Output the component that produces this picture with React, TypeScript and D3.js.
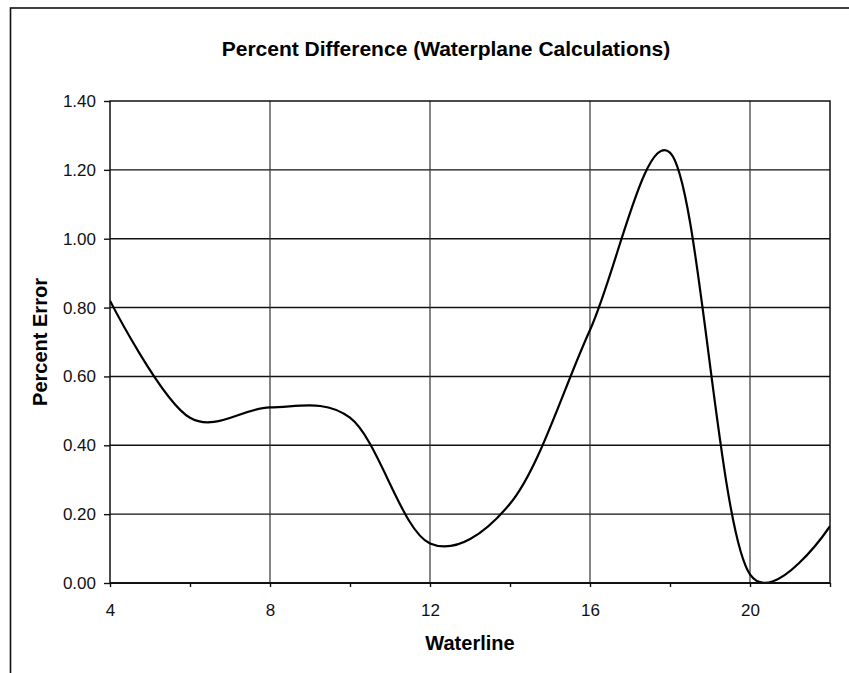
import React, { useEffect, useRef } from 'react';
import * as d3 from 'd3';

// waterline stations (every 2) and percent error
const waterlines = [4, 6, 8, 10, 12, 14, 16, 18, 20, 22];
const percentError = [0.82, 0.48, 0.51, 0.48, 0.115, 0.23, 0.735, 1.25, 0.025, 0.165];

const yTicks = [0, 0.2, 0.4, 0.6, 0.8, 1.0, 1.2, 1.4];
const xMajorTicks = [4, 8, 12, 16, 20];
const xAllTicks = [4, 6, 8, 10, 12, 14, 16, 18, 20, 22];

const chartTitle = 'Percent Difference (Waterplane Calculations)';
const xTitle = 'Waterline';
const yTitle = 'Percent Error';

const App = () => {
    const ref = useRef(null);
    const size = { width: 849, height: 673 };
    const plot = {
        left: 110, right: 830, top: 101, bottom: 583,
    };
    const font = '\'Liberation Sans\', Arial, sans-serif';

    useEffect(() => {
        const svg = d3.select(ref.current);
        svg.selectAll('*').remove();

        const x = d3.scaleLinear().domain([4, 22]).range([plot.left, plot.right]);
        const y = d3.scaleLinear().domain([0, 1.4]).range([plot.bottom, plot.top]);

        // clip for the series so the smoothing dip stays inside the plot
        svg.append('defs')
            .append('clipPath')
            .attr('id', 'plot-clip')
            .append('rect')
            .attr('x', plot.left)
            .attr('y', plot.top)
            .attr('width', plot.right - plot.left)
            .attr('height', plot.bottom - plot.top + 1);

        // outer chart frame (cropped on the right and bottom)
        svg.append('rect')
            .attr('x', 10.5)
            .attr('y', 8)
            .attr('width', 900)
            .attr('height', 800)
            .attr('fill', 'white')
            .attr('stroke', '#111')
            .attr('stroke-width', 1.6);

        // title
        svg.append('text')
            .attr('x', 446)
            .attr('y', 56)
            .attr('text-anchor', 'middle')
            .style('font-family', font)
            .style('font-size', '21px')
            .style('font-weight', 'bold')
            .text(chartTitle);

        // horizontal gridlines
        svg.append('g')
            .selectAll('line')
            .data(yTicks.filter((d) => d > 0 && d < 1.4))
            .enter()
            .append('line')
            .attr('x1', plot.left)
            .attr('x2', plot.right)
            .attr('y1', (d) => y(d))
            .attr('y2', (d) => y(d))
            .attr('stroke', '#111')
            .attr('stroke-width', 1.4);

        // vertical gridlines
        svg.append('g')
            .selectAll('line')
            .data(xMajorTicks.filter((d) => d > 4))
            .enter()
            .append('line')
            .attr('x1', (d) => x(d))
            .attr('x2', (d) => x(d))
            .attr('y1', plot.top)
            .attr('y2', plot.bottom)
            .attr('stroke', '#333')
            .attr('stroke-width', 1.2);

        // plot border
        svg.append('rect')
            .attr('x', plot.left)
            .attr('y', plot.top)
            .attr('width', plot.right - plot.left)
            .attr('height', plot.bottom - plot.top)
            .attr('fill', 'none')
            .attr('stroke', '#111')
            .attr('stroke-width', 1.5);

        // smoothed series line
        const line = d3.line()
            .x((d) => x(d[0]))
            .y((d) => y(d[1]))
            .curve(d3.curveCatmullRom.alpha(0.2));

        svg.append('path')
            .datum(waterlines.map((w, i) => [w, percentError[i]]))
            .attr('d', line)
            .attr('clip-path', 'url(#plot-clip)')
            .attr('fill', 'none')
            .attr('stroke', '#000')
            .attr('stroke-width', 2.2);

        svg.append('line')
            .attr('x1', plot.left)
            .attr('x2', plot.right)
            .attr('y1', plot.bottom)
            .attr('y2', plot.bottom)
            .attr('stroke', '#111')
            .attr('stroke-width', 2.2);

        // y axis
        const yAxis = d3.axisLeft(y)
            .tickValues(yTicks)
            .tickFormat(d3.format('.2f'))
            .tickSize(6)
            .tickPadding(8);
        const yg = svg.append('g')
            .attr('transform', `translate(${plot.left},0)`)
            .call(yAxis);
        yg.select('.domain').remove();
        yg.selectAll('line').attr('stroke', '#111').attr('stroke-width', 1.4);
        yg.selectAll('text')
            .style('font-family', font)
            .style('font-size', '17px')
            .attr('fill', '#111');

        // x axis: ticks every 2, labels every 4
        const xAxis = d3.axisBottom(x)
            .tickValues(xAllTicks)
            .tickFormat((d) => (xMajorTicks.includes(d) ? String(d) : ''))
            .tickSize(4)
            .tickPadding(17);
        const xg = svg.append('g')
            .attr('transform', `translate(0,${plot.bottom})`)
            .call(xAxis);
        xg.select('.domain').remove();
        xg.selectAll('line').attr('stroke', '#111').attr('stroke-width', 1.4);
        xg.selectAll('text')
            .style('font-family', font)
            .style('font-size', '17px')
            .attr('fill', '#111');

        // axis titles
        svg.append('text')
            .attr('x', (plot.left + plot.right) / 2)
            .attr('y', 650)
            .attr('text-anchor', 'middle')
            .style('font-family', font)
            .style('font-size', '20px')
            .style('font-weight', 'bold')
            .text(xTitle);

        svg.append('text')
            .attr('transform', `translate(47,${(plot.top + plot.bottom) / 2}) rotate(-90)`)
            .attr('text-anchor', 'middle')
            .style('font-family', font)
            .style('font-size', '20px')
            .style('font-weight', 'bold')
            .text(yTitle);
    }, []);

    return (
        <svg
            ref={ref}
            width={size.width}
            height={size.height}
            style={{ position: 'absolute', left: 0, top: 0, background: 'white' }}
        />
    );
};

export default App;
